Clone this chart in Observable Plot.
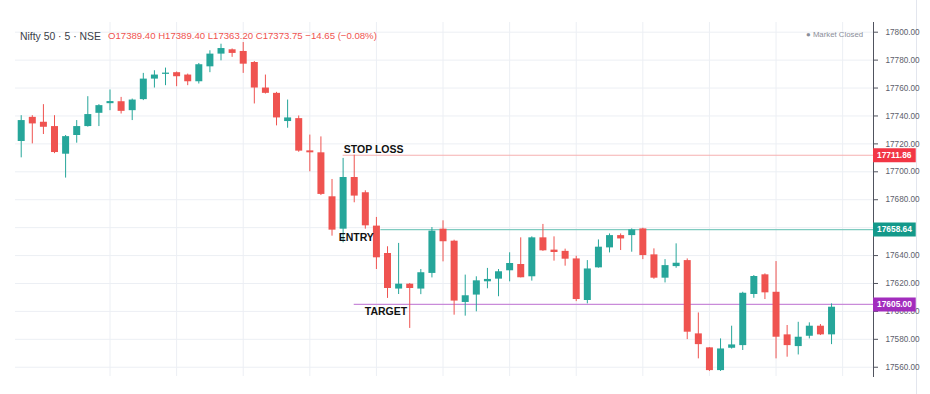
<!DOCTYPE html>
<html>
<head>
<meta charset="utf-8">
<script src="https://cdn.jsdelivr.net/npm/d3@7"></script>
<script src="https://cdn.jsdelivr.net/npm/@observablehq/plot@0.6"></script>
<style>
  html, body { margin: 0; padding: 0; background: #fff; }
  #wrap { position: relative; width: 930px; height: 394px; overflow: hidden; font-family: "Liberation Sans", Arial, sans-serif; }
  #wrap svg { position: absolute; left: 0; top: 0; }
  .hdr { position: absolute; left: 20px; top: 29px; white-space: nowrap; line-height: 12px; }
  .sym { font-size: 10.4px; color: #3a3e48; }
  .ohlc { position: absolute; left: 108px; top: 30px; font-size: 9.6px; color: #ef5350; white-space: nowrap; line-height: 12px; }
  .mkt { position: absolute; left: 806px; top: 29px; font-size: 7.8px; color: #8a8e98; white-space: nowrap; line-height: 12px; }
  .border { position: absolute; left: 916px; top: 0; width: 1px; height: 394px; background: #e3e6ee; }
</style>
</head>
<body>
<div id="wrap">
  <div class="border"></div>
</div>
<script>
// ---- data (5-minute candles) ----
const open  = [17721.7,17739.0,17735.5,17732.4,17712.6,17726.0,17732.4,17741.9,17748.8,17750.2,
               17743.8,17751.7,17766.4,17769.8,17771.0,17769.3,17764.5,17775.2,17784.3,17787.4,
               17786.2,17778.3,17760.0,17756.2,17736.0,17738.1,17715.0,17713.6,17682.1,17658.9,
               17695.9,17685.0,17661.1,17641.5,17616.0,17619.5,17616.0,17627.2,17658.9,17650.3,
               17606.4,17611.7,17621.2,17623.1,17629.1,17633.6,17624.8,17652.7,17643.9,17643.0,
               17637.6,17607.8,17631.2,17645.5,17654.3,17654.3,17659.1,17640.5,17623.8,17632.1,
               17636.4,17583.9,17573.9,17557.6,17573.6,17575.5,17612.1,17626.2,17613.7,17583.2,
               17574.8,17582.2,17589.4,17583.2];
const high  = [17740.2,17740.2,17748.1,17740.2,17726.0,17736.7,17753.8,17748.1,17758.6,17753.3,
               17752.1,17770.5,17772.4,17774.3,17771.5,17770.0,17777.6,17786.7,17791.4,17788.0,
               17792.6,17779.0,17769.3,17756.9,17751.4,17740.0,17726.3,17725.0,17694.5,17709.6,
               17711.9,17686.4,17667.3,17646.3,17648.7,17620.0,17630.0,17660.1,17664.9,17651.0,
               17626.0,17624.8,17630.8,17630.0,17642.0,17652.7,17653.4,17662.3,17653.4,17644.6,
               17639.5,17636.4,17651.2,17655.5,17655.5,17659.1,17659.6,17644.8,17637.1,17648.4,
               17637.6,17598.9,17574.0,17580.3,17589.4,17613.7,17625.7,17626.9,17635.7,17589.9,
               17592.2,17591.8,17590.6,17605.4];
const low   = [17710.0,17720.0,17726.7,17713.0,17695.5,17720.5,17732.0,17732.4,17743.8,17741.4,
               17736.7,17751.0,17760.0,17761.7,17761.0,17761.7,17762.9,17771.0,17779.5,17782.0,
               17770.5,17748.6,17755.7,17732.9,17731.2,17714.0,17700.0,17683.0,17653.9,17649.1,
               17677.8,17658.9,17630.0,17609.3,17612.1,17587.8,17612.0,17624.0,17635.5,17597.3,
               17596.6,17599.7,17616.2,17610.5,17621.2,17624.0,17621.7,17643.0,17636.0,17632.4,
               17607.0,17605.4,17631.0,17641.9,17643.6,17642.4,17637.1,17623.0,17620.4,17630.9,
               17579.8,17566.0,17557.0,17557.0,17573.0,17572.0,17609.4,17608.5,17566.0,17567.2,
               17568.8,17580.3,17582.7,17576.2];
const close = [17736.7,17734.3,17731.9,17713.8,17725.2,17732.4,17741.0,17747.4,17750.3,17743.3,
               17751.4,17766.4,17769.3,17770.7,17768.1,17764.5,17776.7,17784.3,17788.3,17784.8,
               17777.1,17760.0,17756.2,17738.6,17738.6,17714.8,17713.6,17683.8,17658.2,17695.9,
               17682.6,17661.3,17638.4,17616.4,17619.5,17616.4,17627.7,17657.5,17649.9,17607.4,
               17611.2,17621.9,17622.9,17628.4,17634.3,17624.1,17652.7,17643.4,17642.2,17637.4,
               17608.5,17630.4,17646.0,17654.3,17651.9,17658.4,17640.0,17623.8,17632.8,17634.5,
               17585.1,17576.2,17557.6,17573.1,17576.0,17613.0,17625.0,17613.3,17581.5,17575.5,
               17581.5,17589.4,17583.2,17603.0];

const yTicks = [17560,17580,17600,17620,17640,17660,17680,17700,17720,17740,17760,17780,17800];
const hiddenTickLabels = [17660];   // fully covered by the ENTRY price tag in the reference
const timeTicks = [8,14,20,26,32,38,44,50,56,62,68,74];   // candle indices on :00 / :30

const levelNames  = ["STOP LOSS", "ENTRY", "TARGET"];
const levelPrices = [17711.86, 17658.64, 17605.00];

const headerSymbol = "Nifty 50 · 5 · NSE";
const headerOHLC = "O17389.40 H17389.40 L17363.20 C17373.75 −14.65 (−0.08%)";
const marketStatus = "Market Closed";

// ---- styles / layout ----
const UP = "#26a69a", DOWN = "#ef5350";
const lineColors = ["#f6b1b1", "#7fcbbf", "#c98bd9"];
const boxColors  = ["#f23645", "#14998a", "#a22dbd"];
const lineStart  = [29.0, 32.4, 30.0];     // candle index where each level line starts
const labelStart = [29.06, 28.6, 30.95];   // candle index where each label text starts
const labelDy    = [-6, 8, 7];
const XMIN = -0.514, XMAX = 76.78;

const candles = open.map((o, i) => ({i, open: o, high: high[i], low: low[i], close: close[i]}));
const levels = levelNames.map((name, k) => ({
  name, price: levelPrices[k], start: lineStart[k], labelX: labelStart[k], dy: labelDy[k],
  line: lineColors[k], box: boxColors[k]
}));
const col = d => d.close >= d.open ? UP : DOWN;

const chart = Plot.plot({
  width: 930,
  height: 394,
  marginLeft: 15,
  marginRight: 57,
  marginTop: 22,
  marginBottom: 18,
  style: {background: "transparent", fontFamily: "Liberation Sans, Arial, sans-serif"},
  x: {domain: [XMIN, XMAX], axis: null},
  y: {domain: [17553.37, 17806.95], axis: null},
  marks: [
    Plot.gridY(yTicks, {stroke: "#eceff4", strokeOpacity: 1}),
    Plot.ruleX(timeTicks, {stroke: "#eceff4", strokeOpacity: 1}),
    Plot.ruleY(levels, {y: "price", x1: "start", x2: XMAX, stroke: "line", strokeWidth: 1.2}),
    Plot.ruleX(candles, {x: "i", y1: "low", y2: "high", stroke: col, strokeWidth: 1}),
    Plot.ruleX(candles, {x: "i", y1: "open", y2: "close", stroke: col, strokeWidth: 7}),
    Plot.text(levels, {x: "labelX", y: "price", text: "name", textAnchor: "start",
      fontWeight: "bold", fontSize: 10.5, fill: "#111",
      render: (index, scales, values, dims, ctx, next) => {
        const g = next(index, scales, values, dims, ctx);
        d3.select(g).selectAll("text").each(function(_, j) {
          const k = index[j];
          this.setAttribute("transform", `translate(${values.x[k]},${values.y[k] + levels[k].dy})`);
        });
        return g;
      }}),
    Plot.frame({anchor: "right", stroke: "#50535e"}),
    Plot.axisY(yTicks, {anchor: "right", tickSize: 4, tickPadding: 8, stroke: "#50535e",
      tickFormat: d => hiddenTickLabels.includes(d) ? "" : d.toFixed(2), fontSize: 8.2, fill: "#5d606b"}),
    Plot.ruleY(levels, {y: "price", x1: XMAX, x2: XMAX + 3.85, stroke: "box", strokeWidth: 14}),
    Plot.text(levels, {x: XMAX, y: "price", dx: 3.5, text: d => d.price.toFixed(2), textAnchor: "start",
      fill: "white", fontWeight: "bold", fontSize: 8.4})
  ]
});

const wrap = document.getElementById("wrap");
wrap.appendChild(chart);
const h = document.createElement("div");
h.className = "hdr";
h.innerHTML = `<span class="sym"></span>`;
h.querySelector(".sym").textContent = headerSymbol;
wrap.appendChild(h);
const o = document.createElement("div");
o.className = "ohlc";
o.textContent = headerOHLC;
wrap.appendChild(o);
const m = document.createElement("div");
m.className = "mkt";
m.textContent = "● " + marketStatus;
wrap.appendChild(m);
</script>
</body>
</html>
